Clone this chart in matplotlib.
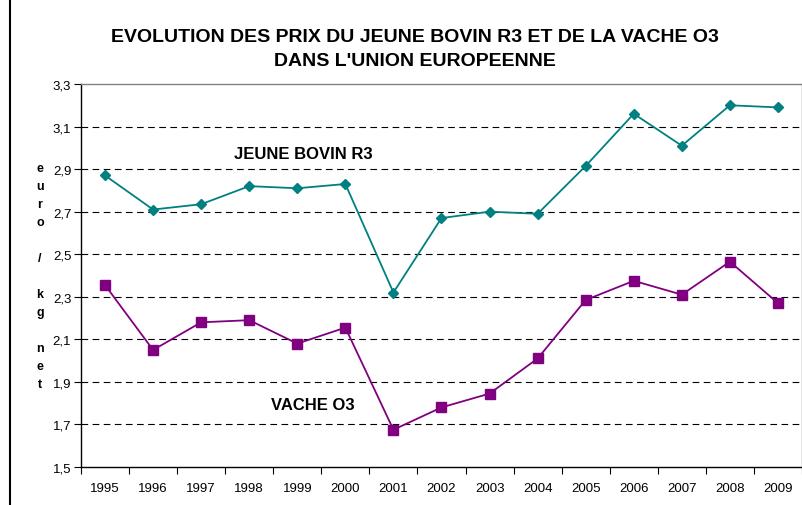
import numpy as np
import matplotlib
matplotlib.use("Agg")
import matplotlib.pyplot as plt
from matplotlib.lines import Line2D

plt.rcParams['font.family'] = ['Liberation Sans', 'DejaVu Sans']

# Data
years = ["1995", "1996", "1997", "1998", "1999", "2000", "2001", "2002",
         "2003", "2004", "2005", "2006", "2007", "2008", "2009"]
jeune_bovin = [2.87, 2.71, 2.735, 2.82, 2.81, 2.83, 2.32, 2.67,
               2.70, 2.69, 2.915, 3.16, 3.01, 3.20, 3.19]
vache = [2.355, 2.05, 2.18, 2.19, 2.08, 2.155, 1.675, 1.78,
         1.845, 2.01, 2.285, 2.375, 2.31, 2.465, 2.27]
y_ticks = [1.5, 1.7, 1.9, 2.1, 2.3, 2.5, 2.7, 2.9, 3.1, 3.3]
y_labels = ["1,5", "1,7", "1,9", "2,1", "2,3", "2,5", "2,7", "2,9", "3,1", "3,3"]

teal = "#008080"
purple = "#800080"

fig = plt.figure(figsize=(8.03, 5.06), dpi=100)
ax = fig.add_axes([81 / 803, 1 - 468 / 506, 721 / 803, 383 / 506])

x = np.arange(len(years))
ax.plot(x, jeune_bovin, color=teal, linewidth=1.3, marker="D",
        markersize=5.5, markerfacecolor=teal, markeredgecolor=teal)
ax.plot(x, vache, color=purple, linewidth=1.3, marker="s",
        markersize=7, markerfacecolor=purple, markeredgecolor=purple)

ax.set_xlim(-0.5, len(years) - 0.5)
ax.set_ylim(1.5, 3.3)

# gridlines
for v in y_ticks[1:-1]:
    ax.axhline(v, color="black", linestyle=(0, (6, 4)), linewidth=0.8, zorder=0)

ax.set_yticks(y_ticks)
ax.set_yticklabels(y_labels, fontsize=9.5)
ax.tick_params(axis="y", direction="out", length=5, width=0.8, pad=2)

# x: ticks at category boundaries, labels centred
ax.set_xticks(np.arange(-0.5, len(years), 1.0))
ax.set_xticklabels([])
ax.set_xticks(x, minor=True)
ax.set_xticklabels(years, minor=True, fontsize=9.5)
ax.tick_params(axis="x", which="major", direction="out", length=5, width=0.8)
ax.tick_params(axis="x", which="minor", length=0, pad=11)

for side in ["left", "bottom"]:
    ax.spines[side].set_color("black")
    ax.spines[side].set_linewidth(1.0)
for side in ["top", "right"]:
    ax.spines[side].set_color("#808080")
    ax.spines[side].set_linewidth(1.0)

# series labels
ax.text(4.12, 2.975, "JEUNE BOVIN R3", fontsize=12, fontweight="bold",
        ha="center", va="center")
ax.text(4.33, 1.795, "VACHE O3", fontsize=12, fontweight="bold",
        ha="center", va="center")

# vertical stacked y label
fig.text(40 / 803, 1 - 277 / 506, "e\nu\nr\no\n\n/\n\nk\ng\n\nn\ne\nt",
         fontsize=9, fontweight="bold", ha="center", va="center",
         linespacing=1.67)

# title
fig.text(415 / 803, 1 - 37 / 506, "EVOLUTION DES PRIX DU JEUNE BOVIN R3 ET DE LA VACHE O3",
         fontsize=14, fontweight="bold", ha="center", va="center")
fig.text(415 / 803, 1 - 61 / 506, "DANS L'UNION EUROPEENNE",
         fontsize=14, fontweight="bold", ha="center", va="center")

# outer chart frame on the left
fig.add_artist(Line2D([10 / 803, 10 / 803], [0, 1], transform=fig.transFigure,
                      color="black", linewidth=1.5))

fig.savefig("out.png", dpi=100)
